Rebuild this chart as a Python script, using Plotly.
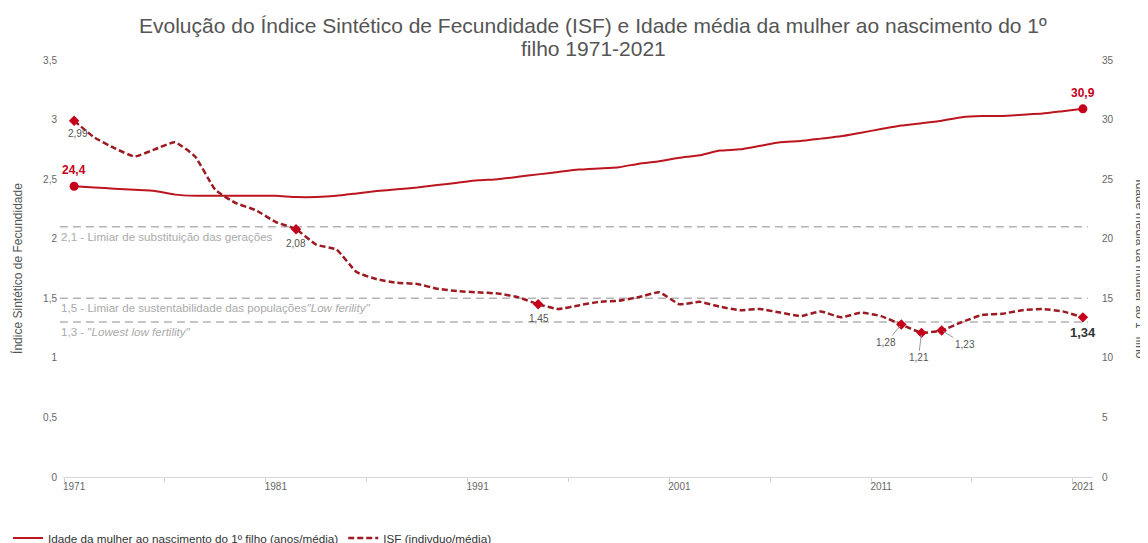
import plotly.graph_objects as go

# ---------------- data ----------------
years = list(range(1971, 2022))

isf = [2.99, 2.85, 2.76, 2.69, 2.75, 2.81, 2.69, 2.41, 2.30, 2.24,
       2.14, 2.08, 1.95, 1.91, 1.72, 1.66, 1.63, 1.62, 1.58, 1.56,
       1.55, 1.54, 1.51, 1.45, 1.41, 1.44, 1.47, 1.48, 1.51, 1.55,
       1.45, 1.47, 1.43, 1.40, 1.41, 1.38, 1.35, 1.39, 1.34, 1.38,
       1.35, 1.28, 1.21, 1.23, 1.30, 1.36, 1.37, 1.40, 1.41, 1.39,
       1.34]

idade = [24.4, 24.3, 24.2, 24.1, 24.0, 23.7, 23.6, 23.6, 23.6, 23.6,
         23.6, 23.5, 23.5, 23.6, 23.8, 24.0, 24.15, 24.3, 24.5, 24.7,
         24.9, 25.0, 25.2, 25.4, 25.6, 25.8, 25.9, 26.0, 26.3, 26.5,
         26.8, 27.0, 27.4, 27.5, 27.8, 28.1, 28.2, 28.4, 28.6, 28.9,
         29.2, 29.5, 29.7, 29.9, 30.2, 30.3, 30.3, 30.4, 30.5, 30.7,
         30.9]

isf_marker_years = [1971, 1982, 1994, 2012, 2013, 2014, 2021]
idade_marker_years = [1971, 2021]

x_tick_vals = [1971, 1981, 1991, 2001, 2011, 2021]
x_tick_text = ["1971", "1981", "1991", "2001", "2011", "2021"]
y1_tick_vals = [0, 0.5, 1, 1.5, 2, 2.5, 3, 3.5]
y1_tick_text = ["0", "0,5", "1", "1,5", "2", "2,5", "3", "3,5"]
y2_tick_vals = [0, 5, 10, 15, 20, 25, 30, 35]
y2_tick_text = ["0", "5", "10", "15", "20", "25", "30", "35"]

ref_lines = [2.1, 1.5, 1.3]
ref_labels = ["2,1 - Limiar de substituição das gerações",
              "1,5 - Limiar de sustentabilidade das populações<i>\"Low ferility\"</i>",
              "1,3 - \"<i>Lowest low fertility\"</i>"]

title_line1 = "Evolução do Índice Sintético de Fecundidade (ISF) e Idade média da mulher ao nascimento do 1º"
title_line2 = "filho 1971-2021"
name_idade = "Idade da mulher ao nascimento do 1º filho (anos/média)"
name_isf = "ISF (indivduo/média)"

# ---------------- style ----------------
RED_SOLID = "#bb1520"
RED_DASH = "#9c1a22"
RED_MARK = "#c4001a"
FONT = "Liberation Sans, Arial, Helvetica, sans-serif"

fig = go.Figure()

fig.add_trace(go.Scatter(
    x=years, y=idade, yaxis="y2", mode="lines", name=name_idade,
    line=dict(color=RED_SOLID, width=2, shape="spline", smoothing=0.4),
    hoverinfo="x+y"))

fig.add_trace(go.Scatter(
    x=years, y=isf, yaxis="y", mode="lines", name=name_isf,
    line=dict(color=RED_DASH, width=2.5, dash="6px,3px", shape="spline", smoothing=0.4),
    hoverinfo="x+y"))

# markers
fig.add_trace(go.Scatter(
    x=idade_marker_years, y=[idade[years.index(y)] for y in idade_marker_years],
    yaxis="y2", mode="markers", showlegend=False,
    marker=dict(symbol="circle", size=9, color=RED_MARK)))
fig.add_trace(go.Scatter(
    x=isf_marker_years, y=[isf[years.index(y)] for y in isf_marker_years],
    yaxis="y", mode="markers", showlegend=False,
    marker=dict(symbol="diamond", size=8, color=RED_MARK)))

annotations = []

def fmt(v, d):
    return f"{v:.{d}f}".replace(".", ",")

# ISF labels
plain = {1971: (4, -13), 1982: (0, -14), 1994: (1, -14)}
for yr, (xs, ys) in plain.items():
    v = isf[years.index(yr)]
    annotations.append(dict(x=yr, y=v, xref="x", yref="y", text=fmt(v, 2),
                            showarrow=False, xshift=xs, yshift=ys,
                            font=dict(size=10, color="#555", family=FONT)))
leader = {2012: (-15, 18), 2013: (-3, 25), 2014: (23, 14)}
for yr, (ax, ay) in leader.items():
    v = isf[years.index(yr)]
    annotations.append(dict(x=yr, y=v, xref="x", yref="y", text=fmt(v, 2),
                            showarrow=True, arrowhead=0, arrowwidth=1,
                            arrowcolor="#9a9a9a", ax=ax, ay=ay, standoff=2,
                            font=dict(size=10, color="#555", family=FONT)))
v = isf[years.index(2021)]
annotations.append(dict(x=2021, y=v, xref="x", yref="y", text="<b>" + fmt(v, 2) + "</b>",
                        showarrow=False, yshift=-15,
                        font=dict(size=13, color="#333", family=FONT)))
# age labels
for yr in idade_marker_years:
    v = idade[years.index(yr)]
    annotations.append(dict(x=yr, y=v, xref="x", yref="y2", text="<b>" + fmt(v, 1) + "</b>",
                            showarrow=False, yshift=16,
                            font=dict(size=12, color=RED_MARK, family=FONT)))

# reference lines + labels
shapes = []
for val, lab in zip(ref_lines, ref_labels):
    shapes.append(dict(type="line", xref="paper", yref="y", x0=-0.003, x1=0.995,
                       y0=val, y1=val, line=dict(color="#b3b3b3", width=1.5, dash="8px,5px"),
                       layer="below"))
    annotations.append(dict(x=-0.004, y=val, xref="paper", yref="y", text=lab,
                            showarrow=False, xanchor="left", yanchor="top", yshift=-1,
                            font=dict(size=11.6, color="#aaaaaa", family=FONT)))

# axis titles
annotations.append(dict(x=-0.0535, y=0.5, xref="paper", yref="paper",
                        text="Índice Sintético de Fecundidade", textangle=-90,
                        showarrow=False, font=dict(size=12, color="#555", family=FONT)))
annotations.append(dict(x=1.0545, y=0.5, xref="paper", yref="paper",
                        text="Idade média da mulher ao 1º filho", textangle=90,
                        showarrow=False, font=dict(size=12, color="#555", family=FONT)))

# title (two lines)
annotations.append(dict(x=0.5146, y=1.083, xref="paper", yref="paper", text=title_line1,
                        showarrow=False, xanchor="center", yanchor="middle",
                        font=dict(size=21, color="#555", family=FONT)))
annotations.append(dict(x=0.5146, y=1.028, xref="paper", yref="paper", text=title_line2,
                        showarrow=False, xanchor="center", yanchor="middle",
                        font=dict(size=21, color="#555", family=FONT)))

fig.update_layout(
    width=1148, height=543,
    margin=dict(l=55, r=63, t=52, b=74),
    paper_bgcolor="white", plot_bgcolor="white",
    separators=",.",
    font=dict(family=FONT, color="#555"),
    xaxis=dict(range=[1970.45, 2021.5], tickmode="array", tickvals=x_tick_vals,
               ticktext=x_tick_text, showgrid=False, zeroline=False,
               showline=True, linecolor="#d9d9d9", linewidth=1,
               ticks="", tickfont=dict(size=10, color="#666", family=FONT),
               minor=dict(tick0=1970.5, dtick=5, ticks="outside", ticklen=4,
                          tickcolor="#d0d0d0", showgrid=False)),
    yaxis=dict(range=[0, 3.5], tickmode="array", tickvals=y1_tick_vals,
               ticktext=y1_tick_text, showgrid=False, zeroline=False, showline=False,
               ticks="outside", ticklen=3, tickcolor="rgba(0,0,0,0)",
               tickfont=dict(size=10, color="#666", family=FONT)),
    yaxis2=dict(range=[0, 35], overlaying="y", side="right", tickmode="array",
                tickvals=y2_tick_vals, ticktext=y2_tick_text, showgrid=False,
                zeroline=False, showline=False, ticks="outside", ticklen=6,
                tickcolor="rgba(0,0,0,0)",
                tickfont=dict(size=10, color="#666", family=FONT)),
    legend=dict(orientation="h", xref="container", yref="container",
                x=0.0, y=0.024, xanchor="left", yanchor="middle",
                itemwidth=30, font=dict(size=11.7, color="#333", family=FONT),
                bgcolor="rgba(0,0,0,0)"),
    annotations=annotations, shapes=shapes,
    showlegend=True,
)

fig.write_html("out.html")
